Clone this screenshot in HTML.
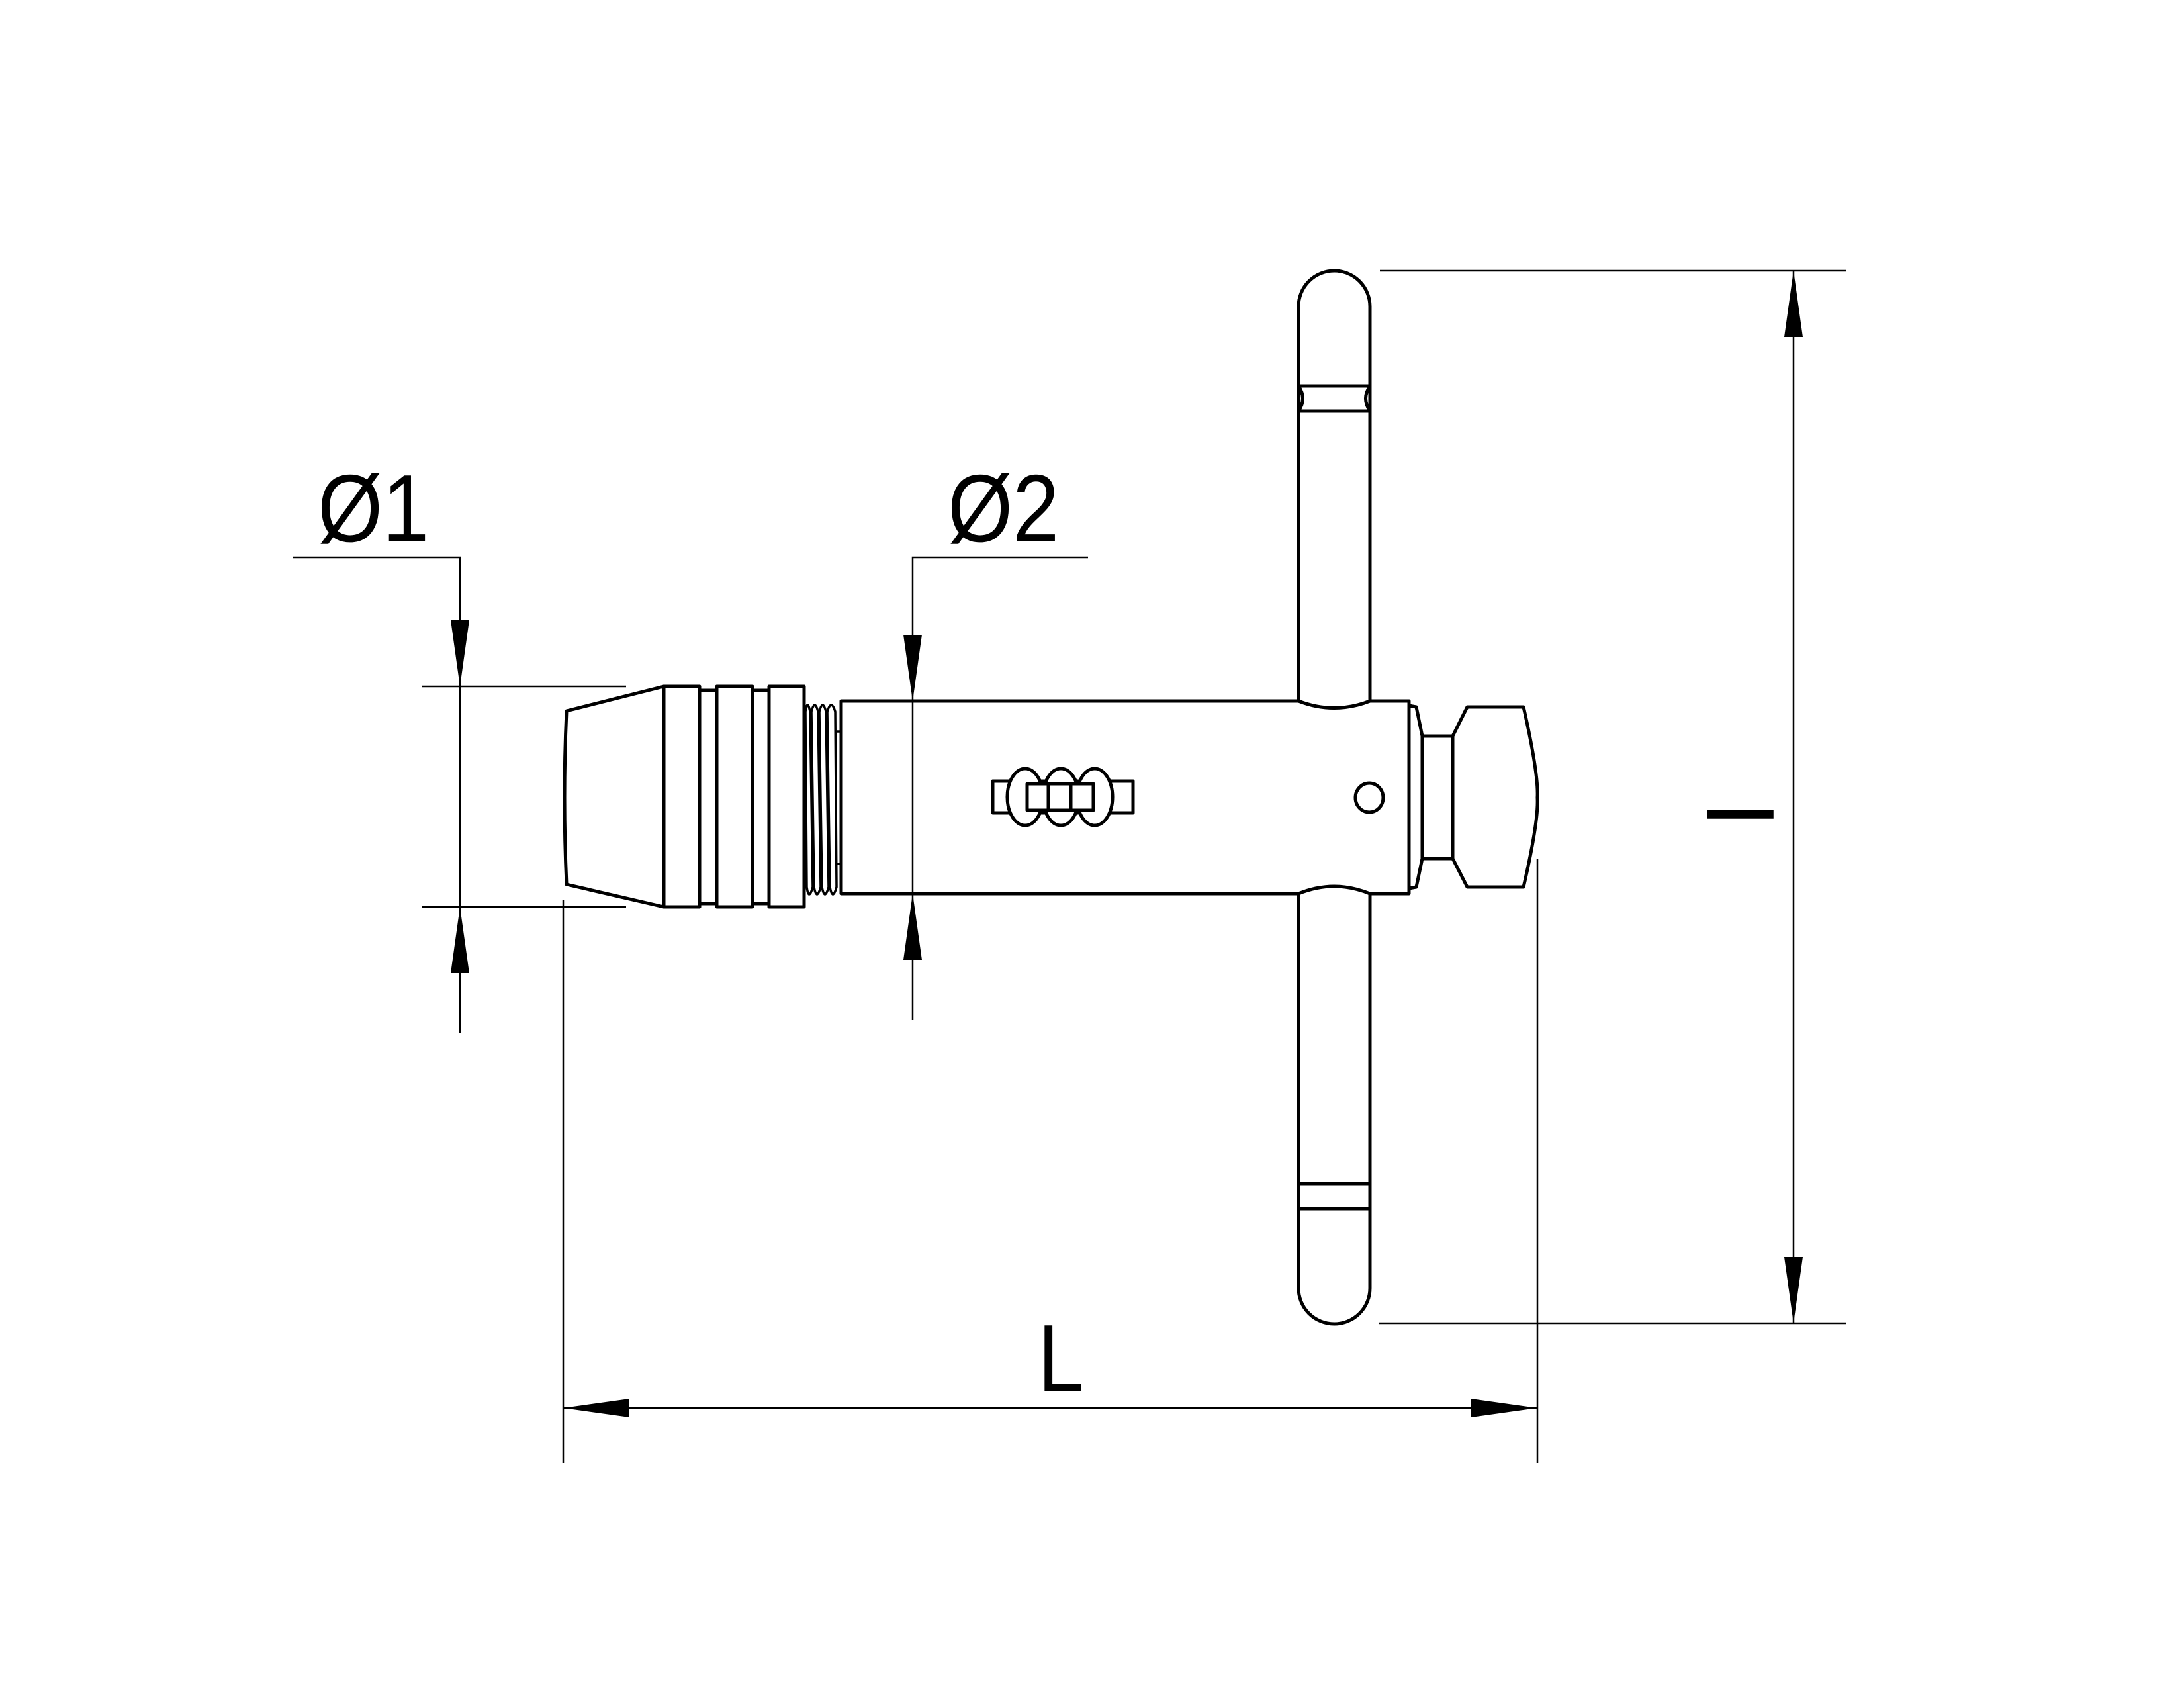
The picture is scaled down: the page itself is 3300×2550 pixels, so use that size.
<!DOCTYPE html>
<html><head><meta charset="utf-8"><style>html,body{margin:0;padding:0;background:#fff}svg{display:block}</style></head>
<body>
<svg width="3300" height="2550" viewBox="0 0 3300 2550" xmlns="http://www.w3.org/2000/svg">
<rect width="3300" height="2550" fill="#fff"/>
<g stroke="#000" stroke-width="2.5" fill="none">
<polyline points="442,842 695,842 695,1561"/>
<line x1="638" y1="1037" x2="946" y2="1037"/>
<line x1="638" y1="1370" x2="946" y2="1370"/>
<polyline points="1644,842 1379,842 1379,1541"/>
<line x1="851" y1="1359" x2="851" y2="2210"/>
<line x1="2323" y1="1297" x2="2323" y2="2210"/>
<line x1="851" y1="2127" x2="2323" y2="2127"/>
<line x1="2085" y1="409" x2="2790" y2="409"/>
<line x1="2083" y1="1999" x2="2790" y2="1999"/>
<line x1="2710" y1="409" x2="2710" y2="1999"/>
</g>
<g fill="#000">
<polygon points="695,1037 681,937 709,937"/>
<polygon points="695,1370 681,1470 709,1470"/>
<polygon points="1379,1059 1365,959 1393,959"/>
<polygon points="1379,1350 1365,1450 1393,1450"/>
<polygon points="851,2127 951,2113 951,2141"/>
<polygon points="2323,2127 2223,2113 2223,2141"/>
<polygon points="2710,409 2696,509 2724,509"/>
<polygon points="2710,1999 2696,1899 2724,1899"/>
</g>
<g stroke="#000" stroke-width="5" fill="none" stroke-linejoin="round">
<path d="M1003,1037 L856,1074 Q850,1205 856,1336 L1003,1370 Z"/>
<rect x="1003" y="1037" width="54" height="333"/>
<rect x="1057" y="1043" width="26" height="322"/>
<rect x="1083" y="1037" width="54" height="333"/>
<rect x="1137" y="1043" width="25" height="322"/>
<rect x="1162" y="1037" width="53" height="333"/>
<g stroke-width="3.5">
<path d="M1217,1075 Q1220,1055 1224,1075 L1228,1340 Q1222,1362 1219,1340 Z"/>
<path d="M1226,1075 Q1231,1055 1236,1075 L1240,1340 Q1234,1362 1230,1340 Z"/>
<path d="M1238,1075 Q1243,1055 1248,1075 L1252,1340 Q1246,1362 1242,1340 Z"/>
<path d="M1250,1075 Q1256,1055 1262,1075 L1264,1340 Q1258,1362 1254,1340 Z"/>
<line x1="1264" y1="1105" x2="1271" y2="1105"/>
<line x1="1264" y1="1305" x2="1271" y2="1305"/>
</g>
<path d="M1271,1059 L1962,1059 Q2016,1080 2070,1059 L2129,1059 L2129,1350 L2070,1350 Q2016,1328 1962,1350 L1271,1350 Z"/>
<path d="M1962,1059 L1962,463 A54,54 0 0 1 2070,463 L2070,1059"/>
<line x1="1962" y1="583" x2="2070" y2="583"/>
<line x1="1962" y1="621" x2="2070" y2="621"/>
<path d="M1962,583 Q1975,602 1962,621" />
<path d="M2070,583 Q2057,602 2070,621" />
<path d="M1962,1350 L1962,1946 A54,54 0 0 0 2070,1946 L2070,1350"/>
<line x1="1962" y1="1788" x2="2070" y2="1788"/>
<line x1="1962" y1="1826" x2="2070" y2="1826"/>
<ellipse cx="2069" cy="1205" rx="21" ry="22"/>
<rect x="1500" y="1180" width="212" height="48"/>
<g fill="#fff">
<ellipse cx="1549" cy="1204" rx="27" ry="43"/>
<ellipse cx="1603" cy="1204" rx="27" ry="43"/>
<ellipse cx="1654" cy="1204" rx="27" ry="43"/>
</g>
<rect x="1552" y="1184" width="100" height="40" fill="#fff"/>
<line x1="1584" y1="1184" x2="1584" y2="1224"/>
<line x1="1618" y1="1184" x2="1618" y2="1224"/>
<path d="M2129,1066 L2140,1068 L2149,1112 L2149,1297 L2140,1340 L2129,1342"/>
<rect x="2149" y="1112" width="46" height="185"/>
<path d="M2195,1112 L2217,1068 L2302,1068 Q2325,1170 2323,1205 Q2325,1240 2302,1340 L2217,1340 L2195,1297"/>
</g>
<g font-family="Liberation Sans, sans-serif" fill="#000" font-size="145">
<text transform="translate(480,818) scale(0.87,1)">Ø1</text>
<text transform="translate(1432,818) scale(0.87,1)">Ø2</text>
<text transform="translate(1568,2102) scale(0.87,1)">L</text>
<text x="0" y="0" transform="translate(2580,1230) rotate(90)" text-anchor="middle">I</text>
</g>
</svg>
</body></html>
